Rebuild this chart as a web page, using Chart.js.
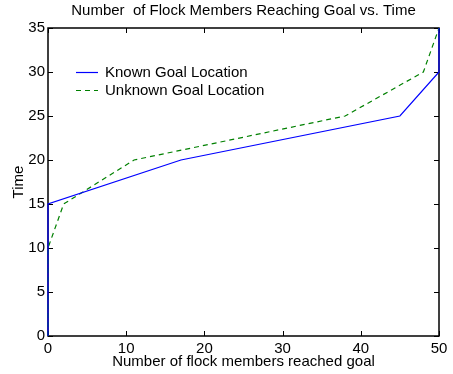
<!DOCTYPE html>
<html>
<head>
<meta charset="utf-8">
<script src="https://cdn.jsdelivr.net/npm/chart.js@4.4.0/dist/chart.umd.min.js"></script>
<style>
html,body{margin:0;padding:0;background:#fff;}
#wrap{width:453px;height:374px;}
</style>
</head>
<body>
<div id="wrap"><canvas id="c" width="453" height="374"></canvas></div>
<script>
// Data
const knownX   = [0, 0, 17, 45, 50, 50];
const knownY   = [0, 15, 20, 25, 30, 35];
const unknownX = [0, 0, 2, 11, 38, 48, 50];
const unknownY = [0, 10, 15, 20, 25, 30, 35];
const seriesNames = ['Known Goal Location', 'Unknown Goal Location'];
const xTicks = [0, 10, 20, 30, 40, 50];
const yTicks = [0, 5, 10, 15, 20, 25, 30, 35];
const titleText = 'Number  of Flock Members Reaching Goal vs. Time';
const xTitle = 'Number of flock members reached goal';
const yTitle = 'Time';

const FONT = 'Liberation Sans, Arial, Helvetica, sans-serif';

const toPts = (xs, ys) => xs.map((x, i) => ({x: x, y: ys[i]}));

// Box + inward ticks on all four sides (MATLAB style)
const boxPlugin = {
  id: 'boxPlugin',
  beforeDatasetsDraw(chart) {
    const {ctx, chartArea: a, scales} = chart;
    const xs = scales.x, ys = scales.y;
    const L = 5;
    ctx.save();
    ctx.strokeStyle = '#000';
    ctx.lineWidth = 1;
    ctx.beginPath();
    xTicks.forEach(v => {
      const px = Math.round(xs.getPixelForValue(v)) + 0.5;
      ctx.moveTo(px, a.bottom); ctx.lineTo(px, a.bottom - L);
      ctx.moveTo(px, a.top); ctx.lineTo(px, a.top + L);
    });
    yTicks.forEach(v => {
      const py = Math.round(ys.getPixelForValue(v)) + 0.5;
      ctx.moveTo(a.left, py); ctx.lineTo(a.left + L, py);
      ctx.moveTo(a.right, py); ctx.lineTo(a.right - L, py);
    });
    ctx.stroke();
    ctx.lineWidth = 1.5;
    ctx.strokeRect(a.left, a.top, a.right - a.left, a.bottom - a.top);
    ctx.restore();
  }
};

// Legend drawn inside the plot area, upper left
const innerLegend = {
  id: 'innerLegend',
  afterDraw(chart) {
    const {ctx, chartArea: a} = chart;
    ctx.save();
    ctx.font = '15px ' + FONT;
    ctx.textBaseline = 'middle';
    ctx.fillStyle = '#000';
    chart.data.datasets.forEach((ds, i) => {
      const y = a.top + 44 + i * 18;
      const x0 = a.left + 28;
      ctx.strokeStyle = ds.borderColor;
      ctx.lineWidth = ds.borderWidth;
      ctx.setLineDash(ds.borderDash || []);
      ctx.beginPath();
      ctx.moveTo(x0, y + 0.5); ctx.lineTo(x0 + 22, y + 0.5);
      ctx.stroke();
      ctx.setLineDash([]);
      ctx.fillText(ds.label, x0 + 29, y + 1);
    });
    ctx.restore();
  }
};

new Chart(document.getElementById('c'), {
  type: 'line',
  data: {
    datasets: [
      {
        label: seriesNames[0],
        data: toPts(knownX, knownY),
        borderColor: '#0000ff',
        borderWidth: 1.2,
        pointRadius: 0,
        tension: 0,
        fill: false,
        clip: false
      },
      {
        label: seriesNames[1],
        data: toPts(unknownX, unknownY),
        borderColor: '#008000',
        borderWidth: 1.2,
        borderDash: [5, 4],
        pointRadius: 0,
        tension: 0,
        fill: false,
        clip: false
      }
    ]
  },
  options: {
    responsive: false,
    animation: false,
    devicePixelRatio: 1,
    layout: {padding: {left: 0, right: 14, top: 0, bottom: 0}},
    plugins: {
      legend: {display: false},
      tooltip: {enabled: false},
      title: {
        display: true,
        fullSize: false,
        text: titleText,
        color: '#000',
        font: {family: FONT, size: 15, weight: 'normal', lineHeight: 1.2},
        padding: {top: 1.5, bottom: 8.5}
      }
    },
    scales: {
      x: {
        type: 'linear',
        min: 0, max: 50,
        afterBuildTicks: s => { s.ticks = xTicks.map(v => ({value: v})); },
        afterFit: s => { s.height = 38; },
        grid: {display: false, drawTicks: false},
        border: {display: false},
        ticks: {color: '#000', font: {family: FONT, size: 15}, padding: 4, maxRotation: 0},
        title: {display: true, text: xTitle, color: '#000', font: {family: FONT, size: 15, lineHeight: 1.2}, padding: {top: 0, bottom: 3}}
      },
      y: {
        type: 'linear',
        min: 0, max: 35,
        afterBuildTicks: s => { s.ticks = yTicks.map(v => ({value: v})); },
        afterFit: s => { s.width = 48; },
        grid: {display: false, drawTicks: false},
        border: {display: false},
        ticks: {color: '#000', font: {family: FONT, size: 15}, padding: 3},
        title: {display: true, text: yTitle, color: '#000', font: {family: FONT, size: 15, lineHeight: 1.2}, padding: {top: 10, bottom: 0}}
      }
    }
  },
  plugins: [boxPlugin, innerLegend]
});
</script>
</body>
</html>
